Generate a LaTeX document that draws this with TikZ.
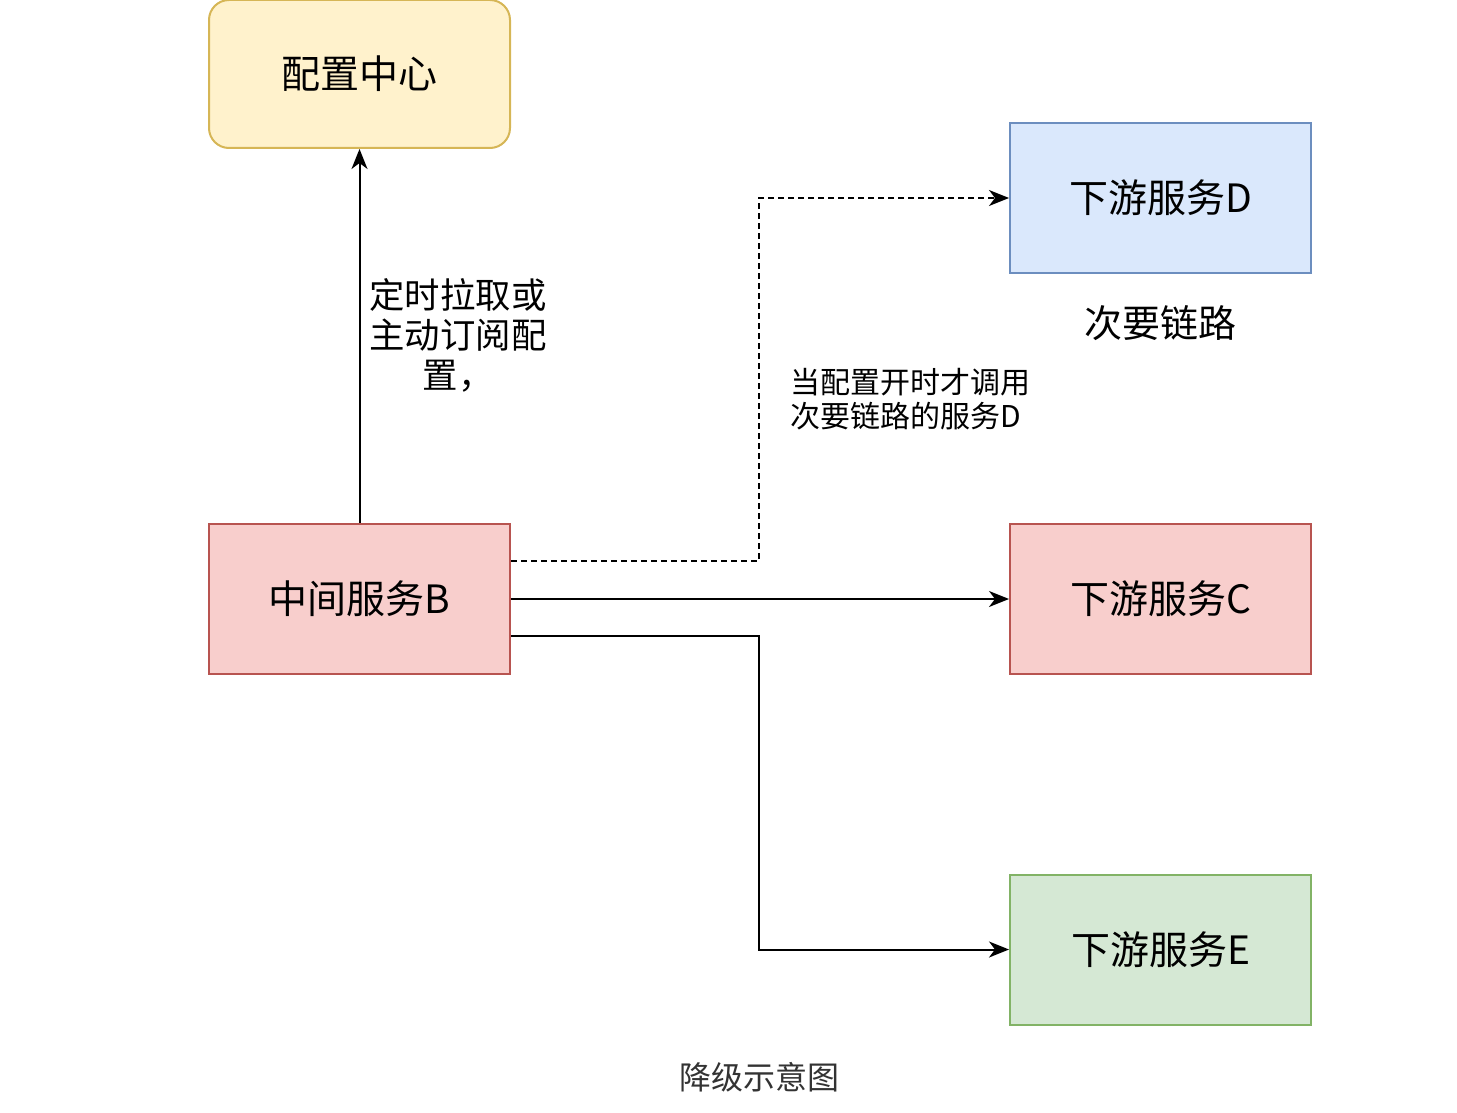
\documentclass[tikz,border=0pt]{standalone}
\usepackage{fontspec}
\newfontfamily\cjk{Noto Sans CJK SC}
\usetikzlibrary{arrows.meta}
\definecolor{cfgfill}{HTML}{FFF2CC}
\definecolor{cfgdraw}{HTML}{D6B656}
\definecolor{redfill}{HTML}{F8CECC}
\definecolor{reddraw}{HTML}{B85450}
\definecolor{bluefill}{HTML}{DAE8FC}
\definecolor{bluedraw}{HTML}{6C8EBF}
\definecolor{greenfill}{HTML}{D5E8D4}
\definecolor{greendraw}{HTML}{82B366}
\begin{document}
\begin{tikzpicture}
[x=0.5pt,y=-0.5pt,
  boxdecorate/.style={shape=rectangle,minimum width=150.5pt,minimum height=75pt,
    line width=1pt,inner sep=0pt,font=\cjk\fontsize{19.5}{23}\selectfont},%
  notedecorate/.style={inner sep=0pt,font=\cjk\fontsize{17}{20}\selectfont},%
  linedecorate/.style={-{Stealth[length=10pt,width=8pt,inset=3pt]},line width=1pt},%
  dashdecorate/.style={linedecorate,dash pattern=on 3pt off 2pt}]
\useasboundingbox (0,0) rectangle (1457,1113);
%% boxes
\node (cfg) at (359.5,74) [boxdecorate,minimum height=74pt,rounded corners=10pt,
  fill=cfgfill,draw=cfgdraw] {配置中心};
\node (B) at (359.5,599) [boxdecorate,fill=redfill,draw=reddraw] {中间服务B};
\foreach \nodename/\y/\fc/\dc in {D/198/bluefill/bluedraw, C/599/redfill/reddraw,
  E/949.5/greenfill/greendraw} {
  \node (\nodename) at (1160.5,\y) [boxdecorate,fill=\fc,draw=\dc] {下游服务\nodename};
}
%% texts
\node (pull) at (458,335) [notedecorate,align=center,
  font=\cjk\fontsize{17.7}{20}\selectfont] {定时拉取或\\主动订阅配\\置，};
\node (minor) at (1160,323) [notedecorate,font=\cjk\fontsize{19}{22}\selectfont] {次要链路};
\node (switch) at (790,399) [notedecorate,anchor=west,align=left,
  font=\cjk\fontsize{15}{17}\selectfont] {当配置开时才调用\\次要链路的服务D};
\node (caption) at (759,1077) [notedecorate,text=black!80,
  font=\cjk\fontsize{16}{19}\selectfont] {降级示意图};
%% lines
\draw[linedecorate] (B) -- (cfg);
\draw[dashdecorate] ([yshift=19pt]B.east) -| ([xshift=-125pt]D.west) -- (D.west);
\draw[linedecorate] (B) -- (C);
\draw[linedecorate] ([yshift=-18.5pt]B.east) -| ([xshift=-125pt]E.west) -- (E.west);
\end{tikzpicture}
\end{document}
